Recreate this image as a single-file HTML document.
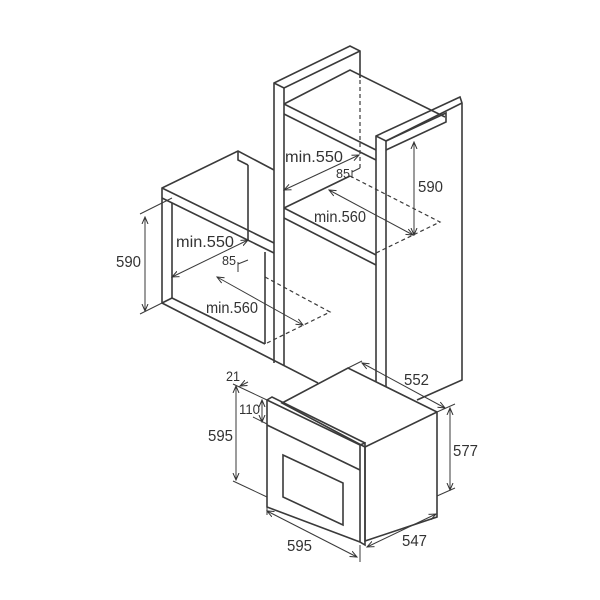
<!DOCTYPE html>
<html><head><style>
body{margin:0;background:#fff}
svg{display:block}
text{font-family:"Liberation Sans",sans-serif;font-size:16px;fill:#333}
.l{stroke:#3a3a3a;stroke-width:1.6;fill:none}
.d{stroke:#3a3a3a;stroke-width:1.2;fill:none;stroke-dasharray:4 3}
.a{stroke:#3a3a3a;stroke-width:1;fill:none}
</style></head><body>
<svg width="600" height="600" viewBox="0 0 600 600">
<defs>
<marker id="m" markerWidth="8" markerHeight="8" refX="7" refY="4" orient="auto-start-reverse" markerUnits="userSpaceOnUse"><path d="M0,1 L7,4 L0,7" fill="none" stroke="#333" stroke-width="1"/></marker>
</defs>
<g class="l">
<path d="M162,303 L162,188 L238,151 L274,170"/>
<path d="M162,188 L274,243"/>
<path d="M162,198 L274,253"/>
<path d="M172,203 L172,298"/>
<path d="M248,165 L248,240"/>
<path d="M238,151 L238,160 L248,165"/>
<path d="M172,298 L265,344"/>
<path d="M162,303 L318,383"/>
<path d="M162,303 L172,298"/>
<path d="M265,252 L265,344"/>
</g>
<path class="d" d="M265,277 L330,312 L265,344"/>
<g class="l">
<path d="M274,363 L274,83 L350,46 L360,51 L360,78"/>
<path d="M274,83 L284,88 L360,51"/>
<path d="M284,88 L284,365"/>
<path d="M284,104 L350,70 L445,117"/>
<path d="M284,104 L376,150"/>
<path d="M284,114 L376,160"/>
<path d="M284,208 L350,176"/>
<path d="M284,208 L376,255"/>
<path d="M284,218 L376,265"/>
<path d="M376,383 L376,136 L460,97 L462,103 L462,380 L417,400"/>
<path d="M376,136 L386,141 L462,103"/>
<path d="M386,141 L386,387"/>
<path d="M386,141 L446,113 L446,122 L386,150"/>
</g>
<path class="d" d="M360,80 L360,170"/>
<path class="d" d="M350,176 L440,222 L376,253"/>
<g class="l">
<path d="M282,403 L348,368 L437,412 L437,517 L365,541 L365,447 Z" fill="#fff"/>
<path d="M267,400 L267,507 L360,542"/>
<path d="M267,400 L360,445 L365,443 L365,545 L360,542 L360,445"/>
<path d="M267,400 L272,397 L365,443"/>
<path d="M267,425 L360,470"/>
<path d="M365,447 L437,412"/>
<path d="M283,455 L343,483 L343,525 L283,497 Z"/>
</g>
<g class="a">
<line x1="145" y1="217" x2="145" y2="311" marker-start="url(#m)" marker-end="url(#m)"/>
<line x1="140" y1="214" x2="172" y2="198"/>
<line x1="140" y1="314" x2="162" y2="303"/>
<line x1="172" y1="277" x2="248" y2="240" marker-start="url(#m)" marker-end="url(#m)"/>
<path d="M238,262 L238,272 M238,264 L248,260"/>
<line x1="217" y1="277" x2="303" y2="325" marker-start="url(#m)" marker-end="url(#m)"/>
<line x1="284" y1="190" x2="359" y2="155" marker-start="url(#m)" marker-end="url(#m)"/>
<path d="M352,170 L352,178 M352,172 L360,168"/>
<line x1="329" y1="190" x2="413" y2="235" marker-start="url(#m)" marker-end="url(#m)"/>
<line x1="414" y1="142" x2="414" y2="235" marker-start="url(#m)" marker-end="url(#m)"/>
<line x1="236" y1="386" x2="236" y2="480" marker-start="url(#m)" marker-end="url(#m)"/>
<line x1="233" y1="384" x2="267" y2="400"/>
<line x1="233" y1="481" x2="267" y2="497"/>
<line x1="262" y1="400" x2="262" y2="422" marker-start="url(#m)" marker-end="url(#m)"/>
<line x1="253" y1="417" x2="267" y2="424"/>
<line x1="248" y1="382" x2="240" y2="386" marker-end="url(#m)"/>
<line x1="267" y1="511" x2="357" y2="557" marker-start="url(#m)" marker-end="url(#m)"/>
<line x1="267" y1="507" x2="267" y2="515"/>
<line x1="360" y1="545" x2="360" y2="562"/>
<line x1="367" y1="547" x2="436" y2="514" marker-start="url(#m)" marker-end="url(#m)"/>
<line x1="450" y1="408" x2="450" y2="490" marker-start="url(#m)" marker-end="url(#m)"/>
<line x1="437" y1="412" x2="455" y2="404"/>
<line x1="437" y1="496" x2="455" y2="488"/>
<line x1="362" y1="363" x2="445" y2="408" marker-start="url(#m)" marker-end="url(#m)"/>
<line x1="348" y1="368" x2="362" y2="361"/>
</g>
<text x="285" y="162" textLength="58" lengthAdjust="spacingAndGlyphs">min.550</text>
<text x="336" y="178" style="font-size:13px" textLength="14" lengthAdjust="spacingAndGlyphs">85</text>
<text x="418" y="192" textLength="25" lengthAdjust="spacingAndGlyphs">590</text>
<text x="314" y="222" textLength="52" lengthAdjust="spacingAndGlyphs">min.560</text>
<text x="176" y="247" textLength="58" lengthAdjust="spacingAndGlyphs">min.550</text>
<text x="222" y="265" style="font-size:13px" textLength="14" lengthAdjust="spacingAndGlyphs">85</text>
<text x="116" y="267" textLength="25" lengthAdjust="spacingAndGlyphs">590</text>
<text x="206" y="313" textLength="52" lengthAdjust="spacingAndGlyphs">min.560</text>
<text x="226" y="381" style="font-size:14px" textLength="14" lengthAdjust="spacingAndGlyphs">21</text>
<text x="239" y="414" style="font-size:14px" textLength="21" lengthAdjust="spacingAndGlyphs">110</text>
<text x="208" y="441" textLength="25" lengthAdjust="spacingAndGlyphs">595</text>
<text x="404" y="385" textLength="25" lengthAdjust="spacingAndGlyphs">552</text>
<text x="453" y="456" textLength="25" lengthAdjust="spacingAndGlyphs">577</text>
<text x="287" y="551" textLength="25" lengthAdjust="spacingAndGlyphs">595</text>
<text x="402" y="546" textLength="25" lengthAdjust="spacingAndGlyphs">547</text>
</svg>
</body></html>
